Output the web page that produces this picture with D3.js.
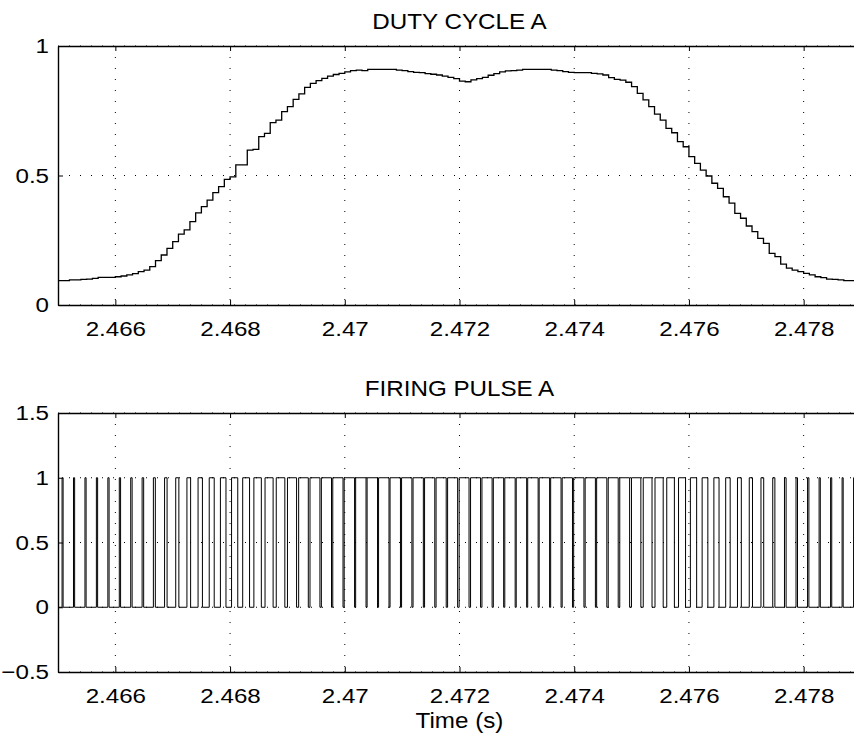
<!DOCTYPE html>
<html>
<head>
<meta charset="utf-8">
<script src="https://cdn.jsdelivr.net/npm/d3@7"></script>
<style>
  body { margin: 0; background: #fff; }
  text { font-family: "Liberation Sans", Arial, Helvetica, sans-serif; fill: #000; }
  .grid line { stroke: #000; stroke-width: 1; stroke-dasharray: 1,10; }
  .axis path, .axis line { stroke: #000; }
  .axis path { stroke-width: 1.4; }
</style>
</head>
<body>
<div id="chart"></div>
<script>
// duty cycle samples, every 0.1 ms from 2.465 s
var dutyStart = 2.465,
    dutyStep = 0.0001;
var dutyValues = [
  0.094, 0.094, 0.097, 0.097, 0.099, 0.100, 0.103, 0.107, 0.107, 0.107,
  0.109, 0.112, 0.116, 0.121, 0.129, 0.135, 0.148, 0.171, 0.193, 0.219,
  0.245, 0.274, 0.290, 0.322, 0.356, 0.380, 0.405, 0.434, 0.457, 0.485,
  0.495, 0.541, 0.541, 0.598, 0.601, 0.650, 0.663, 0.704, 0.714, 0.747,
  0.766, 0.794, 0.815, 0.840, 0.856, 0.866, 0.875, 0.884, 0.890, 0.894,
  0.900, 0.905, 0.907, 0.905, 0.910, 0.910, 0.910, 0.910, 0.910, 0.907,
  0.905, 0.901, 0.898, 0.897, 0.893, 0.891, 0.888, 0.884, 0.879, 0.874,
  0.864, 0.862, 0.869, 0.874, 0.879, 0.887, 0.893, 0.900, 0.904, 0.905,
  0.907, 0.910, 0.910, 0.910, 0.910, 0.910, 0.907, 0.905, 0.901, 0.898,
  0.897, 0.897, 0.897, 0.894, 0.892, 0.888, 0.878, 0.871, 0.868, 0.860,
  0.843, 0.817, 0.792, 0.766, 0.737, 0.714, 0.682, 0.665, 0.631, 0.611,
  0.573, 0.547, 0.521, 0.498, 0.470, 0.450, 0.418, 0.393, 0.354, 0.335,
  0.305, 0.283, 0.257, 0.238, 0.199, 0.187, 0.158, 0.142, 0.135, 0.129,
  0.122, 0.116, 0.109, 0.106, 0.100, 0.099, 0.097, 0.094, 0.094, 0.094,
  0.094
];

// firing pulses: 5 kHz centred PWM, high-time fraction of each period
var pwmPeriod = 0.0002,
    firstPulseCentre = 2.46508;
var pulseDuty = [
  0.09, 0.10, 0.10, 0.107, 0.107, 0.112, 0.121, 0.135, 0.171, 0.219,
  0.274, 0.322, 0.380, 0.434, 0.485, 0.541, 0.598, 0.650, 0.704, 0.747,
  0.794, 0.840, 0.866, 0.884, 0.894, 0.905, 0.905, 0.910, 0.910, 0.907,
  0.901, 0.897, 0.891, 0.884, 0.874, 0.862, 0.874, 0.887, 0.900, 0.905,
  0.910, 0.910, 0.910, 0.905, 0.898, 0.897, 0.894, 0.888, 0.871, 0.860,
  0.817, 0.766, 0.714, 0.665, 0.611, 0.547, 0.498, 0.450, 0.393, 0.335,
  0.283, 0.238, 0.187, 0.142, 0.129, 0.116, 0.106, 0.099, 0.094, 0.094
];

var timeDomain = [2.465, 2.479];
var xTicks = [2.466, 2.468, 2.47, 2.472, 2.474, 2.476, 2.478];
var xTickLabels = ["2.466", "2.468", "2.47", "2.472", "2.474", "2.476", "2.478"];
var dutyTicks = [0, 0.5, 1];
var dutyTickLabels = ["0", "0.5", "1"];
var pulseTicks = [-0.5, 0, 0.5, 1, 1.5];
var pulseTickLabels = ["\u22120.5", "0", "0.5", "1", "1.5"];

var width = 854, height = 740;
var margin = {left: 58, right: 861};
var stretch = 1.15;   // the original lettering is a little wide

var svg = d3.select("#chart").append("svg")
    .attr("width", width)
    .attr("height", height);

var x = d3.scaleLinear()
    .domain(timeDomain)
    .range([margin.left, margin.right]);

function label(txt, cx, cy, size) {
  svg.append("text")
      .attr("transform", "translate(" + cx + "," + cy + ") scale(1.1,1)")
      .attr("text-anchor", "middle")
      .style("font-size", size + "px")
      .text(txt);
}

function makePanel(id, top, bottom, yDomain, yTicks, yLabels, title) {
  var y = d3.scaleLinear().domain(yDomain).range([bottom, top]);

  svg.append("clipPath").attr("id", id)
    .append("rect")
      .attr("x", margin.left).attr("y", top)
      .attr("width", margin.right - margin.left)
      .attr("height", bottom - top);

  // dotted grid
  var grid = svg.append("g").attr("class", "grid");
  grid.selectAll(".vx").data(xTicks).enter().append("line")
      .attr("x1", function(d) { return x(d); })
      .attr("x2", function(d) { return x(d); })
      .attr("y1", top).attr("y2", bottom);
  grid.selectAll(".hy").data(yTicks).enter().append("line")
      .attr("x1", margin.left).attr("x2", margin.right)
      .attr("y1", function(d) { return y(d); })
      .attr("y2", function(d) { return y(d); });

  // box with inward ticks
  svg.append("g")
      .attr("class", "axis")
      .attr("transform", "translate(0," + bottom + ")")
      .call(d3.axisBottom(x).tickValues(xTicks).tickSize(-5).tickSizeOuter(0).tickPadding(16)
          .tickFormat(function(d, i) { return xTickLabels[i]; }))
      .selectAll("text")
        .style("font-size", "21px")
        .attr("transform", "scale(" + stretch + ",1)");
  svg.append("g")
      .attr("class", "axis")
      .attr("transform", "translate(0," + top + ")")
      .call(d3.axisTop(x).tickValues(xTicks).tickSize(-5).tickSizeOuter(0).tickFormat(""));
  svg.append("g")
      .attr("class", "axis")
      .attr("transform", "translate(" + margin.left + ",0)")
      .call(d3.axisLeft(y).tickValues(yTicks).tickSize(-5).tickSizeOuter(0)
          .tickFormat(function(d, i) { return yLabels[i]; }))
      .selectAll("text")
        .style("font-size", "21px")
        .attr("x", -9 / stretch)
        .attr("transform", "scale(" + stretch + ",1)");
  svg.append("g")
      .attr("class", "axis")
      .attr("transform", "translate(" + margin.right + ",0)")
      .call(d3.axisRight(y).tickValues(yTicks).tickSize(-5).tickSizeOuter(0).tickFormat(""));

  label(title, (margin.left + margin.right) / 2, top - 17, 22);

  return y;
}

// top panel: duty cycle
var yDuty = makePanel("clipDuty", 46, 305, [0, 1], dutyTicks, dutyTickLabels, "DUTY CYCLE A");

var dutyPoints = dutyValues.map(function(v, i) { return [dutyStart + i * dutyStep, v]; });

svg.append("path")
    .datum(dutyPoints)
    .attr("clip-path", "url(#clipDuty)")
    .attr("fill", "none")
    .attr("stroke", "#000")
    .attr("stroke-width", 1.3)
    .attr("d", d3.line()
        .curve(d3.curveStepAfter)
        .x(function(d) { return x(d[0]); })
        .y(function(d) { return yDuty(d[1]); }));

// bottom panel: firing pulses
var yPulse = makePanel("clipPulse", 413, 672, [-0.5, 1.5], pulseTicks, pulseTickLabels, "FIRING PULSE A");

var pulsePoints = [[timeDomain[0], 0]];
pulseDuty.forEach(function(d, n) {
  var c = firstPulseCentre + n * pwmPeriod,
      half = d * pwmPeriod / 2;
  pulsePoints.push([c - half, 0], [c - half, 1], [c + half, 1], [c + half, 0]);
});
pulsePoints.push([timeDomain[1], 0]);

svg.append("path")
    .datum(pulsePoints)
    .attr("clip-path", "url(#clipPulse)")
    .attr("fill", "none")
    .attr("stroke", "#000")
    .attr("stroke-width", 1)
    .attr("d", d3.line()
        .x(function(d) { return x(d[0]); })
        .y(function(d) { return yPulse(d[1]); }));

label("Time (s)", (margin.left + margin.right) / 2, 728, 22);
</script>
</body>
</html>
